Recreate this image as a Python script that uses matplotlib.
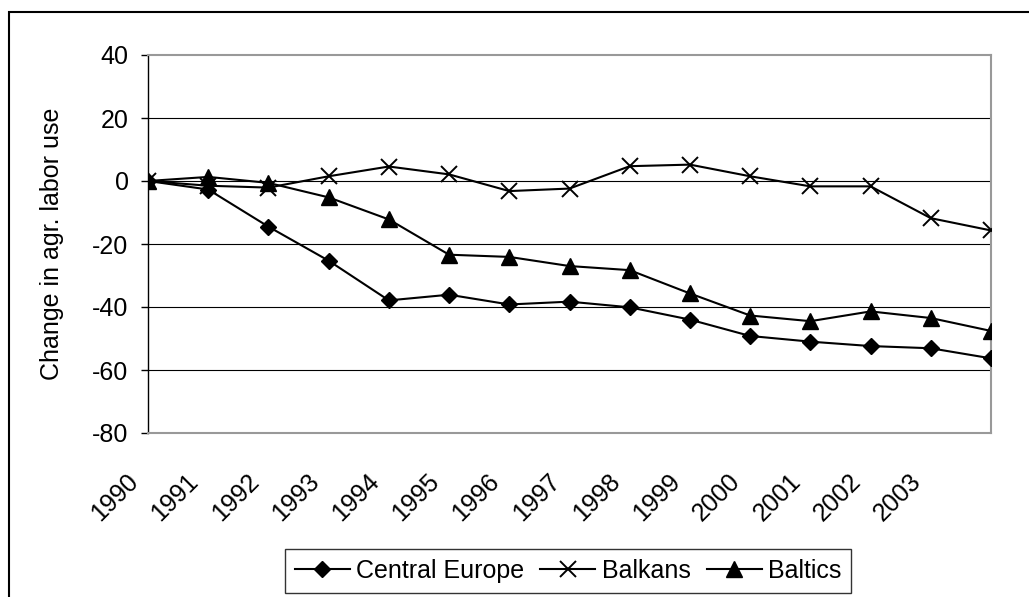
import matplotlib.pyplot as plt
from matplotlib.patches import Rectangle
from matplotlib.transforms import ScaledTranslation

plt.rcParams['font.family'] = ['Liberation Sans', 'DejaVu Sans']
plt.rcParams['axes.unicode_minus'] = False

# 15 observations, only the first 14 carry a year label on the axis
year_labels = ['1990', '1991', '1992', '1993', '1994', '1995', '1996',
               '1997', '1998', '1999', '2000', '2001', '2002', '2003']
central_europe = [0, -2.7, -14.5, -25.3, -37.9, -36.1, -39.2, -38.3,
                  -40.1, -44.0, -49.2, -51.0, -52.4, -53.1, -56.3]
balkans = [0, -1.5, -2.1, 1.5, 4.6, 2.1, -3.2, -2.4,
           4.7, 5.2, 1.5, -1.7, -1.7, -11.8, -15.7]
baltics = [0, 1.3, -0.6, -5.2, -12.2, -23.4, -24.1, -27.0,
           -28.3, -35.7, -42.7, -44.5, -41.4, -43.5, -47.6]


def main():
    fig = plt.figure(figsize=(10.29, 5.97), dpi=100)
    ax = fig.add_axes([148 / 1029, 1 - 433 / 597, 843 / 1029, 378 / 597])

    # outer chart border (runs off the right / bottom edge in the original)
    fig.patches.append(Rectangle((9 / 1029, -0.1), 1.2, 0.98 + 0.1,
                                 transform=fig.transFigure, fill=False,
                                 edgecolor='black', linewidth=1.5))

    x = list(range(len(central_europe)))
    for yy in [20, 0, -20, -40, -60]:
        ax.axhline(yy, color='black', linewidth=0.8, zorder=1)

    ax.plot(x, central_europe, color='black', lw=1.5, marker='D', ms=8,
            label='Central Europe', zorder=3)
    ax.plot(x, balkans, color='black', lw=1.5, marker='x', ms=11, mew=1.4,
            label='Balkans', zorder=3)
    ax.plot(x, baltics, color='black', lw=1.5, marker='^', ms=11,
            label='Baltics', zorder=3)

    ax.set_xlim(0, 14)
    ax.set_ylim(-80, 40)
    ax.set_yticks(range(-80, 41, 20))
    ax.set_xticks(range(len(year_labels)))
    ax.set_xticklabels(year_labels, rotation=45, ha='right')
    ax.tick_params(axis='x', length=0, pad=26, labelsize=18)
    ax.tick_params(axis='y', direction='out', length=5, width=1,
                   pad=9, labelsize=18)
    shift = ScaledTranslation(-5 / 100, 0, fig.dpi_scale_trans)
    for lab in ax.get_xticklabels():
        lab.set_transform(lab.get_transform() + shift)

    for side in ['top', 'right', 'bottom']:
        ax.spines[side].set_color('#999999')
        ax.spines[side].set_linewidth(1.5)
    ax.spines['left'].set_color('black')
    ax.spines['left'].set_linewidth(1)

    ax.set_ylabel('Change in agr. labor use', fontsize=18)
    ax.yaxis.set_label_coords(-0.10, 0.5)

    leg = fig.legend(loc='center', bbox_to_anchor=(568 / 1029, 1 - 571 / 597),
                     ncol=3, fontsize=18, frameon=True, fancybox=False,
                     edgecolor='black', handlelength=2.2, handletextpad=0.25,
                     columnspacing=0.65, borderpad=0.4, borderaxespad=0)
    leg.get_frame().set_linewidth(1)

    fig.savefig('out.png', dpi=100)


if __name__ == "__main__":
    main()
